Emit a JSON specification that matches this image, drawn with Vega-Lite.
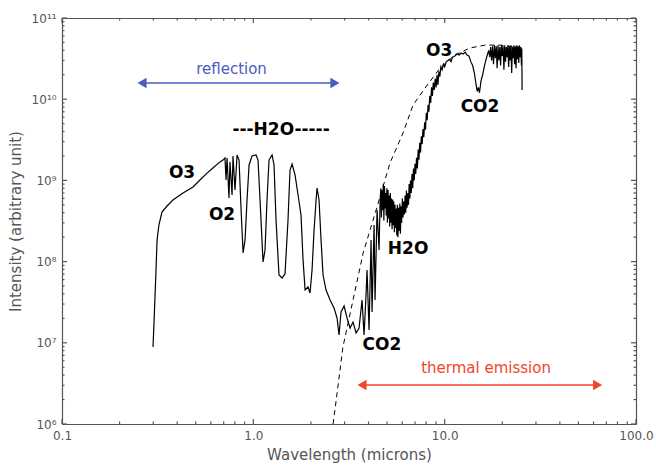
{
  "$schema": "https://vega.github.io/schema/vega-lite/v6.json",
  "width": 574,
  "height": 406,
  "autosize": {"type": "none"},
  "padding": {"left": 62, "top": 18, "right": 20, "bottom": 47},
  "background": "white",
  "config": {
    "view": {"stroke": null},
    "axis": {
      "grid": false,
      "domainColor": "#555555",
      "domainWidth": 1.2,
      "labelColor": "#555555",
      "labelFont": "DejaVu Sans",
      "labelFontSize": 12,
      "titleFont": "DejaVu Sans",
      "titleFontSize": 15,
      "titleFontWeight": "normal",
      "titleColor": "#555555"
    }
  },
  "datasets": {
    "spectrum": [
      {"lam": 0.299, "val": 8.88e6}, {"lam": 0.303, "val": 1.91e7}, {"lam": 0.310, "val": 7.88e7}, {"lam": 0.314, "val": 1.85e8},
      {"lam": 0.321, "val": 2.82e8}, {"lam": 0.333, "val": 4.08e8}, {"lam": 0.354, "val": 4.84e8}, {"lam": 0.380, "val": 5.74e8},
      {"lam": 0.429, "val": 7.00e8}, {"lam": 0.484, "val": 8.30e8}, {"lam": 0.526, "val": 1.01e9}, {"lam": 0.573, "val": 1.23e9},
      {"lam": 0.623, "val": 1.46e9}, {"lam": 0.670, "val": 1.69e9}, {"lam": 0.694, "val": 1.78e9}, {"lam": 0.711, "val": 1.89e9},
      {"lam": 0.720, "val": 1.01e9}, {"lam": 0.729, "val": 1.89e9}, {"lam": 0.746, "val": 6.07e8}, {"lam": 0.755, "val": 1.69e9},
      {"lam": 0.774, "val": 6.61e8}, {"lam": 0.783, "val": 2.00e9}, {"lam": 0.802, "val": 7.62e8}, {"lam": 0.822, "val": 2.06e9},
      {"lam": 0.842, "val": 1.78e9}, {"lam": 0.863, "val": 4.32e8}, {"lam": 0.884, "val": 1.28e8}, {"lam": 0.905, "val": 1.85e8},
      {"lam": 0.927, "val": 5.74e8}, {"lam": 0.950, "val": 1.55e9}, {"lam": 0.984, "val": 2.00e9}, {"lam": 1.033, "val": 2.06e9},
      {"lam": 1.058, "val": 1.78e9}, {"lam": 1.084, "val": 5.74e8}, {"lam": 1.124, "val": 9.89e7}, {"lam": 1.151, "val": 1.39e8},
      {"lam": 1.179, "val": 5.74e8}, {"lam": 1.208, "val": 1.78e9}, {"lam": 1.253, "val": 2.06e9}, {"lam": 1.283, "val": 1.55e9},
      {"lam": 1.314, "val": 3.25e8}, {"lam": 1.362, "val": 6.84e7}, {"lam": 1.413, "val": 6.28e7}, {"lam": 1.464, "val": 7.04e7},
      {"lam": 1.518, "val": 3.25e8}, {"lam": 1.555, "val": 1.34e9}, {"lam": 1.594, "val": 1.59e9}, {"lam": 1.652, "val": 1.17e9},
      {"lam": 1.713, "val": 6.61e8}, {"lam": 1.775, "val": 3.75e8}, {"lam": 1.819, "val": 1.05e8}, {"lam": 1.864, "val": 4.47e7},
      {"lam": 1.932, "val": 4.87e7}, {"lam": 1.979, "val": 4.11e7}, {"lam": 2.027, "val": 7.88e7}, {"lam": 2.077, "val": 2.45e8},
      {"lam": 2.128, "val": 5.74e8}, {"lam": 2.153, "val": 8.06e8}, {"lam": 2.205, "val": 5.74e8}, {"lam": 2.259, "val": 1.85e8},
      {"lam": 2.314, "val": 6.84e7}, {"lam": 2.399, "val": 4.47e7}, {"lam": 2.518, "val": 3.37e7}, {"lam": 2.642, "val": 2.68e7},
      {"lam": 2.739, "val": 2.02e7}, {"lam": 2.805, "val": 1.25e7}, {"lam": 2.873, "val": 2.40e7}, {"lam": 2.980, "val": 2.84e7},
      {"lam": 3.089, "val": 2.02e7}, {"lam": 3.203, "val": 1.52e7}, {"lam": 3.320, "val": 1.80e7}, {"lam": 3.443, "val": 1.32e7},
      {"lam": 3.569, "val": 1.52e7}, {"lam": 3.700, "val": 3.37e7}, {"lam": 3.790, "val": 1.25e7}, {"lam": 3.882, "val": 3.88e7},
      {"lam": 3.929, "val": 7.88e7}, {"lam": 4.025, "val": 1.44e7}, {"lam": 4.123, "val": 1.85e8}, {"lam": 4.173, "val": 2.40e7},
      {"lam": 4.276, "val": 2.82e8}, {"lam": 4.327, "val": 3.37e7}, {"lam": 4.433, "val": 4.32e8}, {"lam": 4.541, "val": 1.39e8},
      {"lam": 4.60, "val": 5.7e8}, {"lam": 4.64, "val": 8.0e8}, {"lam": 4.67, "val": 3.5e8}, {"lam": 4.71, "val": 7.6e8},
      {"lam": 4.74, "val": 4.3e8}, {"lam": 4.78, "val": 9.0e8}, {"lam": 4.81, "val": 3.2e8}, {"lam": 4.85, "val": 8.5e8},
      {"lam": 4.88, "val": 4.5e8}, {"lam": 4.92, "val": 7.0e8}, {"lam": 4.95, "val": 3.7e8}, {"lam": 4.99, "val": 8.0e8},
      {"lam": 5.02, "val": 3.0e8}, {"lam": 5.06, "val": 7.6e8}, {"lam": 5.09, "val": 3.4e8}, {"lam": 5.13, "val": 6.5e8},
      {"lam": 5.16, "val": 2.7e8}, {"lam": 5.20, "val": 7.0e8}, {"lam": 5.24, "val": 3.0e8}, {"lam": 5.27, "val": 6.0e8},
      {"lam": 5.31, "val": 2.5e8}, {"lam": 5.35, "val": 5.8e8}, {"lam": 5.38, "val": 2.8e8}, {"lam": 5.42, "val": 5.5e8},
      {"lam": 5.46, "val": 2.3e8}, {"lam": 5.50, "val": 5.0e8}, {"lam": 5.54, "val": 2.6e8}, {"lam": 5.58, "val": 4.5e8},
      {"lam": 5.62, "val": 2.1e8}, {"lam": 5.66, "val": 5.0e8}, {"lam": 5.70, "val": 2.0e8}, {"lam": 5.74, "val": 4.6e8},
      {"lam": 5.78, "val": 2.4e8}, {"lam": 5.83, "val": 5.2e8}, {"lam": 5.87, "val": 2.2e8}, {"lam": 5.92, "val": 4.8e8},
      {"lam": 5.96, "val": 3.0e8}, {"lam": 6.01, "val": 6.0e8}, {"lam": 6.06, "val": 3.5e8}, {"lam": 6.11, "val": 5.5e8},
      {"lam": 6.16, "val": 3.8e8}, {"lam": 6.21, "val": 6.5e8}, {"lam": 6.26, "val": 4.0e8}, {"lam": 6.31, "val": 7.5e8},
      {"lam": 6.36, "val": 4.6e8}, {"lam": 6.42, "val": 7.0e8}, {"lam": 6.47, "val": 5.0e8}, {"lam": 6.52, "val": 9.0e8},
      {"lam": 6.58, "val": 6.0e8}, {"lam": 6.63, "val": 1.0e9}, {"lam": 6.69, "val": 7.0e8}, {"lam": 6.75, "val": 1.2e9},
      {"lam": 6.81, "val": 8.0e8}, {"lam": 6.87, "val": 1.4e9}, {"lam": 6.93, "val": 1.0e9}, {"lam": 7.00, "val": 1.6e9},
      {"lam": 7.06, "val": 1.2e9}, {"lam": 7.13, "val": 1.9e9}, {"lam": 7.20, "val": 1.4e9}, {"lam": 7.27, "val": 2.4e9},
      {"lam": 7.34, "val": 1.8e9}, {"lam": 7.41, "val": 2.9e9}, {"lam": 7.48, "val": 2.2e9}, {"lam": 7.55, "val": 3.5e9},
      {"lam": 7.63, "val": 2.8e9}, {"lam": 7.70, "val": 4.3e9}, {"lam": 7.78, "val": 3.4e9}, {"lam": 7.86, "val": 5.2e9},
      {"lam": 7.94, "val": 4.2e9}, {"lam": 8.02, "val": 6.8e9}, {"lam": 8.10, "val": 5.5e9}, {"lam": 8.19, "val": 8.5e9},
      {"lam": 8.27, "val": 7.0e9}, {"lam": 8.36, "val": 1.1e10}, {"lam": 8.45, "val": 9.0e9}, {"lam": 8.54, "val": 1.4e10},
      {"lam": 8.63, "val": 1.1e10}, {"lam": 8.72, "val": 1.6e10}, {"lam": 8.82, "val": 1.3e10}, {"lam": 8.92, "val": 1.8e10},
      {"lam": 9.02, "val": 1.4e10}, {"lam": 9.12, "val": 2.0e10}, {"lam": 9.22, "val": 1.5e10}, {"lam": 9.33, "val": 2.2e10},
      {"lam": 9.44, "val": 1.9e10}, {"lam": 9.55, "val": 2.5e10}, {"lam": 9.70, "val": 2.3e10}, {"lam": 9.85, "val": 2.7e10},
      {"lam": 10.0, "val": 2.5e10}, {"lam": 10.2, "val": 2.9e10}, {"lam": 10.4, "val": 3.0e10}, {"lam": 10.6, "val": 3.1e10},
      {"lam": 10.8, "val": 2.9e10}, {"lam": 11.0, "val": 3.3e10}, {"lam": 11.3, "val": 3.4e10}, {"lam": 11.6, "val": 3.6e10},
      {"lam": 11.9, "val": 3.5e10}, {"lam": 12.2, "val": 3.7e10}, {"lam": 12.5, "val": 3.6e10}, {"lam": 12.8, "val": 3.8e10},
      {"lam": 13.1, "val": 3.5e10}, {"lam": 13.4, "val": 3.4e10}, {"lam": 13.7, "val": 2.9e10}, {"lam": 14.0, "val": 2.6e10},
      {"lam": 14.3, "val": 2.1e10}, {"lam": 14.6, "val": 1.5e10}, {"lam": 14.8, "val": 1.25e10}, {"lam": 15.0, "val": 1.4e10},
      {"lam": 15.2, "val": 1.2e10}, {"lam": 15.5, "val": 1.7e10}, {"lam": 15.8, "val": 2.0e10}, {"lam": 16.1, "val": 2.5e10},
      {"lam": 16.4, "val": 3.0e10}, {"lam": 16.7, "val": 3.5e10}, {"lam": 17.0, "val": 4.0e10}, {"lam": 17.2, "val": 3.3e10},
      {"lam": 17.4, "val": 4.4e10}, {"lam": 17.6, "val": 3.0e10}, {"lam": 17.8, "val": 4.5e10}, {"lam": 18.0, "val": 2.7e10},
      {"lam": 18.2, "val": 4.6e10}, {"lam": 18.4, "val": 3.2e10}, {"lam": 18.6, "val": 4.5e10}, {"lam": 18.8, "val": 2.4e10},
      {"lam": 19.0, "val": 4.6e10}, {"lam": 19.2, "val": 3.0e10}, {"lam": 19.4, "val": 4.4e10}, {"lam": 19.6, "val": 2.6e10},
      {"lam": 19.8, "val": 4.6e10}, {"lam": 20.0, "val": 3.4e10}, {"lam": 20.2, "val": 4.5e10}, {"lam": 20.4, "val": 2.3e10},
      {"lam": 20.6, "val": 4.6e10}, {"lam": 20.8, "val": 2.9e10}, {"lam": 21.0, "val": 4.4e10}, {"lam": 21.2, "val": 3.3e10},
      {"lam": 21.4, "val": 4.6e10}, {"lam": 21.6, "val": 2.5e10}, {"lam": 21.8, "val": 4.5e10}, {"lam": 22.0, "val": 3.0e10},
      {"lam": 22.2, "val": 4.6e10}, {"lam": 22.4, "val": 2.1e10}, {"lam": 22.6, "val": 4.4e10}, {"lam": 22.8, "val": 3.2e10},
      {"lam": 23.0, "val": 4.6e10}, {"lam": 23.2, "val": 2.7e10}, {"lam": 23.4, "val": 4.5e10}, {"lam": 23.6, "val": 2.4e10},
      {"lam": 23.8, "val": 4.6e10}, {"lam": 24.0, "val": 3.1e10}, {"lam": 24.2, "val": 4.5e10}, {"lam": 24.4, "val": 2.8e10},
      {"lam": 24.6, "val": 4.6e10}, {"lam": 24.8, "val": 3.3e10}, {"lam": 25.0, "val": 4.4e10}, {"lam": 25.2, "val": 2.6e10},
      {"lam": 25.3, "val": 4.2e10}, {"lam": 25.39, "val": 1.30e10}
    ],
    "blackbody": [
      {"lam": 2.61, "val": 1.0e6}, {"lam": 2.67, "val": 1.49e6}, {"lam": 2.94, "val": 8.9e6}, {"lam": 3.32, "val": 3.37e7},
      {"lam": 3.75, "val": 1.28e8}, {"lam": 4.43, "val": 4.7e8}, {"lam": 5.18, "val": 1.64e9}, {"lam": 6.06, "val": 3.84e9},
      {"lam": 6.84, "val": 8.5e9}, {"lam": 7.90, "val": 1.37e10}, {"lam": 9.46, "val": 2.42e10}, {"lam": 11.3, "val": 3.5e10},
      {"lam": 13.6, "val": 4.28e10}, {"lam": 16.3, "val": 4.64e10}, {"lam": 19.5, "val": 4.64e10}, {"lam": 23.3, "val": 4.4e10}
    ],
    "features": [
      {"lam": 0.424, "val": 1.23e9, "text": "O3"},
      {"lam": 0.686, "val": 3.75e8, "text": "O2"},
      {"lam": 1.396, "val": 4.18e9, "text": "---H2O-----"},
      {"lam": 6.44, "val": 1.43e8, "text": "H2O"},
      {"lam": 4.70, "val": 9.4e6, "text": "CO2"},
      {"lam": 9.35, "val": 3.92e10, "text": "O3"},
      {"lam": 15.3, "val": 8.0e9, "text": "CO2"}
    ],
    "ranges": [
      {"kind": "reflection", "lam": 0.256, "lam2": 2.739, "val": 1.58e10, "textLam": 0.769, "textVal": 2.35e10},
      {"kind": "thermal emission", "lam": 3.613, "lam2": 64.9, "val": 3.02e6, "textLam": 16.46, "textVal": 4.9e6}
    ],
    "heads": [
      {"kind": "reflection", "dir": "left", "lam": 0.262, "val": 1.58e10},
      {"kind": "reflection", "dir": "right", "lam": 2.67, "val": 1.58e10},
      {"kind": "thermal emission", "dir": "left", "lam": 3.70, "val": 3.02e6},
      {"kind": "thermal emission", "dir": "right", "lam": 63.0, "val": 3.02e6}
    ],
    "xticks": [
      {"lam": 0.1, "rank": "major"}, {"lam": 0.2, "rank": "minor"}, {"lam": 0.3, "rank": "minor"}, {"lam": 0.4, "rank": "minor"},
      {"lam": 0.5, "rank": "minor"}, {"lam": 0.6, "rank": "minor"}, {"lam": 0.7, "rank": "minor"}, {"lam": 0.8, "rank": "minor"},
      {"lam": 0.9, "rank": "minor"}, {"lam": 1, "rank": "major"}, {"lam": 2, "rank": "minor"}, {"lam": 3, "rank": "minor"},
      {"lam": 4, "rank": "minor"}, {"lam": 5, "rank": "minor"}, {"lam": 6, "rank": "minor"}, {"lam": 7, "rank": "minor"},
      {"lam": 8, "rank": "minor"}, {"lam": 9, "rank": "minor"}, {"lam": 10, "rank": "major"}, {"lam": 20, "rank": "minor"},
      {"lam": 30, "rank": "minor"}, {"lam": 40, "rank": "minor"}, {"lam": 50, "rank": "minor"}, {"lam": 60, "rank": "minor"},
      {"lam": 70, "rank": "minor"}, {"lam": 80, "rank": "minor"}, {"lam": 90, "rank": "minor"}, {"lam": 100, "rank": "major"}
    ],
    "yticks": [
      {"val": 1e6, "rank": "major"}, {"val": 2e6, "rank": "minor"}, {"val": 3e6, "rank": "minor"}, {"val": 4e6, "rank": "minor"}, {"val": 5e6, "rank": "minor"}, {"val": 6e6, "rank": "minor"}, {"val": 7e6, "rank": "minor"}, {"val": 8e6, "rank": "minor"}, {"val": 9e6, "rank": "minor"},
      {"val": 1e7, "rank": "major"}, {"val": 2e7, "rank": "minor"}, {"val": 3e7, "rank": "minor"}, {"val": 4e7, "rank": "minor"}, {"val": 5e7, "rank": "minor"}, {"val": 6e7, "rank": "minor"}, {"val": 7e7, "rank": "minor"}, {"val": 8e7, "rank": "minor"}, {"val": 9e7, "rank": "minor"},
      {"val": 1e8, "rank": "major"}, {"val": 2e8, "rank": "minor"}, {"val": 3e8, "rank": "minor"}, {"val": 4e8, "rank": "minor"}, {"val": 5e8, "rank": "minor"}, {"val": 6e8, "rank": "minor"}, {"val": 7e8, "rank": "minor"}, {"val": 8e8, "rank": "minor"}, {"val": 9e8, "rank": "minor"},
      {"val": 1e9, "rank": "major"}, {"val": 2e9, "rank": "minor"}, {"val": 3e9, "rank": "minor"}, {"val": 4e9, "rank": "minor"}, {"val": 5e9, "rank": "minor"}, {"val": 6e9, "rank": "minor"}, {"val": 7e9, "rank": "minor"}, {"val": 8e9, "rank": "minor"}, {"val": 9e9, "rank": "minor"},
      {"val": 1e10, "rank": "major"}, {"val": 2e10, "rank": "minor"}, {"val": 3e10, "rank": "minor"}, {"val": 4e10, "rank": "minor"}, {"val": 5e10, "rank": "minor"}, {"val": 6e10, "rank": "minor"}, {"val": 7e10, "rank": "minor"}, {"val": 8e10, "rank": "minor"}, {"val": 9e10, "rank": "minor"},
      {"val": 1e11, "rank": "major"}
    ]
  },
  "layer": [
    {
      "data": {"name": "spectrum"},
      "mark": {"type": "line", "color": "black", "strokeWidth": 1.2},
      "encoding": {
        "x": {
          "field": "lam", "type": "quantitative",
          "scale": {"type": "log", "domain": [0.1, 100], "nice": false},
          "axis": {
            "orient": "bottom", "ticks": false,
            "values": [0.1, 1, 10, 100],
            "labelExpr": "datum.value == 0.1 ? '0.1' : datum.value == 1 ? '1.0' : datum.value == 10 ? '10.0' : '100.0'",
            "labelPadding": 6, "labelOverlap": false, "labelFlush": false,
            "title": "Wavelength (microns)",
            "titlePadding": 6
          }
        },
        "y": {
          "field": "val", "type": "quantitative",
          "scale": {"type": "log", "domain": [1e6, 1e11], "nice": false},
          "axis": {
            "orient": "left", "ticks": false,
            "values": [1e6, 1e7, 1e8, 1e9, 1e10, 1e11],
            "labelExpr": "datum.value == 1e6 ? '10⁶' : datum.value == 1e7 ? '10⁷' : datum.value == 1e8 ? '10⁸' : datum.value == 1e9 ? '10⁹' : datum.value == 1e10 ? '10¹⁰' : '10¹¹'",
            "labelPadding": 6, "labelOverlap": false, "labelFlush": false,
            "title": "Intensity (arbitrary unit)",
            "titlePadding": 8
          }
        }
      }
    },
    {
      "data": {"name": "blackbody"},
      "mark": {"type": "line", "color": "black", "strokeWidth": 1, "strokeDash": [5, 4]},
      "encoding": {
        "x": {
          "field": "lam", "type": "quantitative",
          "scale": {"type": "log", "domain": [0.1, 100], "nice": false},
          "axis": {"orient": "top", "ticks": false, "labels": false, "title": null, "values": [0.1, 100]}
        },
        "y": {
          "field": "val", "type": "quantitative",
          "scale": {"type": "log", "domain": [1e6, 1e11], "nice": false},
          "axis": {"orient": "right", "ticks": false, "labels": false, "title": null, "values": [1e6, 1e11]}
        }
      }
    },
    {
      "data": {"name": "features"},
      "mark": {"type": "text", "font": "DejaVu Sans", "fontWeight": "bold", "fontSize": 17, "color": "black", "align": "center", "baseline": "middle"},
      "encoding": {
        "x": {"field": "lam", "type": "quantitative", "scale": {"type": "log", "domain": [0.1, 100], "nice": false}, "axis": null},
        "y": {"field": "val", "type": "quantitative", "scale": {"type": "log", "domain": [1e6, 1e11], "nice": false}, "axis": null},
        "text": {"field": "text"}
      }
    },
    {
      "data": {"name": "ranges"},
      "mark": {"type": "rule", "strokeWidth": 1.5},
      "encoding": {
        "x": {"field": "lam", "type": "quantitative", "scale": {"type": "log", "domain": [0.1, 100], "nice": false}, "axis": null},
        "x2": {"field": "lam2"},
        "y": {"field": "val", "type": "quantitative", "scale": {"type": "log", "domain": [1e6, 1e11], "nice": false}, "axis": null},
        "color": {"field": "kind", "type": "nominal", "scale": {"domain": ["reflection", "thermal emission"], "range": ["#4a5cc0", "#f0452a"]}, "legend": null}
      }
    },
    {
      "data": {"name": "heads"},
      "mark": {"type": "point", "filled": true, "opacity": 1, "size": 110},
      "encoding": {
        "x": {"field": "lam", "type": "quantitative", "scale": {"type": "log", "domain": [0.1, 100], "nice": false}, "axis": null},
        "y": {"field": "val", "type": "quantitative", "scale": {"type": "log", "domain": [1e6, 1e11], "nice": false}, "axis": null},
        "shape": {"field": "dir", "type": "nominal", "scale": {"domain": ["left", "right"], "range": ["triangle-left", "triangle-right"]}, "legend": null},
        "color": {"field": "kind", "type": "nominal", "scale": {"domain": ["reflection", "thermal emission"], "range": ["#4a5cc0", "#f0452a"]}, "legend": null}
      }
    },
    {
      "data": {"name": "ranges"},
      "mark": {"type": "text", "font": "DejaVu Sans", "fontSize": 15, "align": "center", "baseline": "middle"},
      "encoding": {
        "x": {"field": "textLam", "type": "quantitative", "scale": {"type": "log", "domain": [0.1, 100], "nice": false}, "axis": null},
        "y": {"field": "textVal", "type": "quantitative", "scale": {"type": "log", "domain": [1e6, 1e11], "nice": false}, "axis": null},
        "text": {"field": "kind"},
        "color": {"field": "kind", "type": "nominal", "scale": {"domain": ["reflection", "thermal emission"], "range": ["#4a5cc0", "#f0452a"]}, "legend": null}
      }
    },
    {
      "data": {"name": "xticks"},
      "mark": {"type": "point", "shape": "M 0 -1 L 0 0", "strokeWidth": 1.2, "color": "#555555", "filled": false, "opacity": 1},
      "encoding": {
        "x": {"field": "lam", "type": "quantitative", "scale": {"type": "log", "domain": [0.1, 100], "nice": false}, "axis": null},
        "y": {"datum": 1e6, "type": "quantitative", "scale": {"type": "log", "domain": [1e6, 1e11], "nice": false}, "axis": null},
        "size": {"field": "rank", "type": "nominal", "scale": {"domain": ["major", "minor"], "range": [100, 25]}, "legend": null}
      }
    },
    {
      "data": {"name": "xticks"},
      "mark": {"type": "point", "shape": "M 0 1 L 0 0", "strokeWidth": 1.2, "color": "#555555", "filled": false, "opacity": 1},
      "encoding": {
        "x": {"field": "lam", "type": "quantitative", "scale": {"type": "log", "domain": [0.1, 100], "nice": false}, "axis": null},
        "y": {"datum": 1e11, "type": "quantitative", "scale": {"type": "log", "domain": [1e6, 1e11], "nice": false}, "axis": null},
        "size": {"field": "rank", "type": "nominal", "scale": {"domain": ["major", "minor"], "range": [100, 25]}, "legend": null}
      }
    },
    {
      "data": {"name": "yticks"},
      "mark": {"type": "point", "shape": "M 1 0 L 0 0", "strokeWidth": 1.2, "color": "#555555", "filled": false, "opacity": 1},
      "encoding": {
        "x": {"datum": 0.1, "type": "quantitative", "scale": {"type": "log", "domain": [0.1, 100], "nice": false}, "axis": null},
        "y": {"field": "val", "type": "quantitative", "scale": {"type": "log", "domain": [1e6, 1e11], "nice": false}, "axis": null},
        "size": {"field": "rank", "type": "nominal", "scale": {"domain": ["major", "minor"], "range": [100, 25]}, "legend": null}
      }
    },
    {
      "data": {"name": "yticks"},
      "mark": {"type": "point", "shape": "M -1 0 L 0 0", "strokeWidth": 1.2, "color": "#555555", "filled": false, "opacity": 1},
      "encoding": {
        "x": {"datum": 100, "type": "quantitative", "scale": {"type": "log", "domain": [0.1, 100], "nice": false}, "axis": null},
        "y": {"field": "val", "type": "quantitative", "scale": {"type": "log", "domain": [1e6, 1e11], "nice": false}, "axis": null},
        "size": {"field": "rank", "type": "nominal", "scale": {"domain": ["major", "minor"], "range": [100, 25]}, "legend": null}
      }
    }
  ],
  "resolve": {"axis": {"x": "independent", "y": "independent"}}
}
